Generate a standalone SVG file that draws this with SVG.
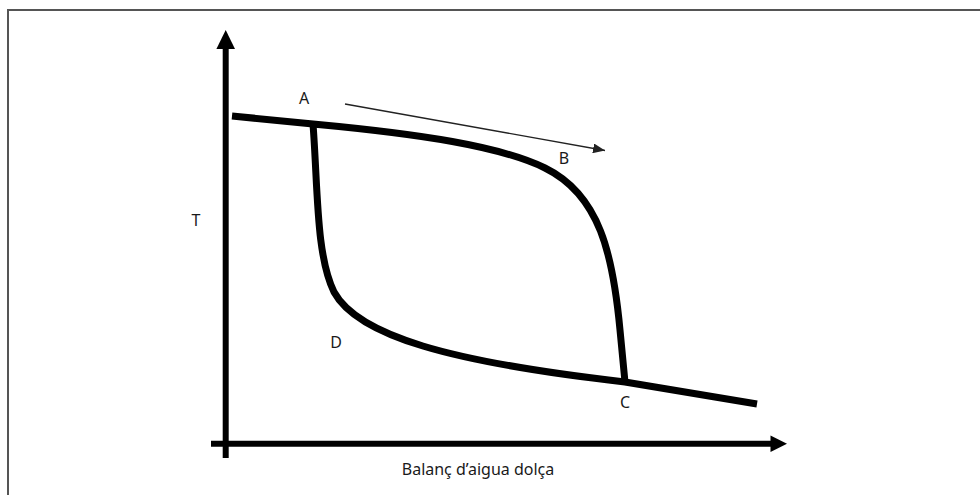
<svg xmlns="http://www.w3.org/2000/svg" width="980" height="495" viewBox="0 0 980 495">
<defs>
<style>
.lbl{font-family:"Noto Sans","Open Sans",sans-serif;font-size:16px;fill:#1a1a1a;text-anchor:middle}
.curve{fill:none;stroke:#000;stroke-width:7;stroke-linejoin:round}
.axis{fill:none;stroke:#000;stroke-width:6}
</style>
<marker id="thin" markerWidth="12" markerHeight="10" refX="12" refY="5" orient="auto" markerUnits="userSpaceOnUse"><path d="M0,0 L12,5 L0,10 Z" fill="#222"/></marker>
</defs>
<rect x="8" y="10" width="990" height="500" fill="#fff" stroke="#555" stroke-width="2"/>
<g id="axes">
<line class="axis" x1="225.7" y1="458" x2="225.7" y2="46"/>
<path d="M225.7,30 L235,49 L216.4,49 Z" fill="#000"/>
<line class="axis" x1="211" y1="443.7" x2="773" y2="443.7"/>
<path d="M787,443.7 L770.5,435.5 L770.5,452 Z" fill="#000"/>
</g>
<g id="connectors">
<path class="curve" d="M232,116 L313,124 C420,134 500,146 545,168 C600,195 613,255 620,330 L625,382"/>
<path class="curve" d="M313,124 C318,190 316,255 334,292 C358,336 450,362 625,382 L757,404"/>
<line x1="345" y1="104" x2="605" y2="150.5" stroke="#222" stroke-width="1.4" marker-end="url(#thin)"/>
</g>
<g id="labels">
<text class="lbl" x="304" y="104">A</text>
<text class="lbl" x="564" y="164">B</text>
<text class="lbl" x="625" y="408">C</text>
<text class="lbl" x="336" y="348">D</text>
<text class="lbl" x="196" y="226">T</text>
<text class="lbl" x="478" y="475">Balanç d’aigua dolça</text>
</g>
</svg>
